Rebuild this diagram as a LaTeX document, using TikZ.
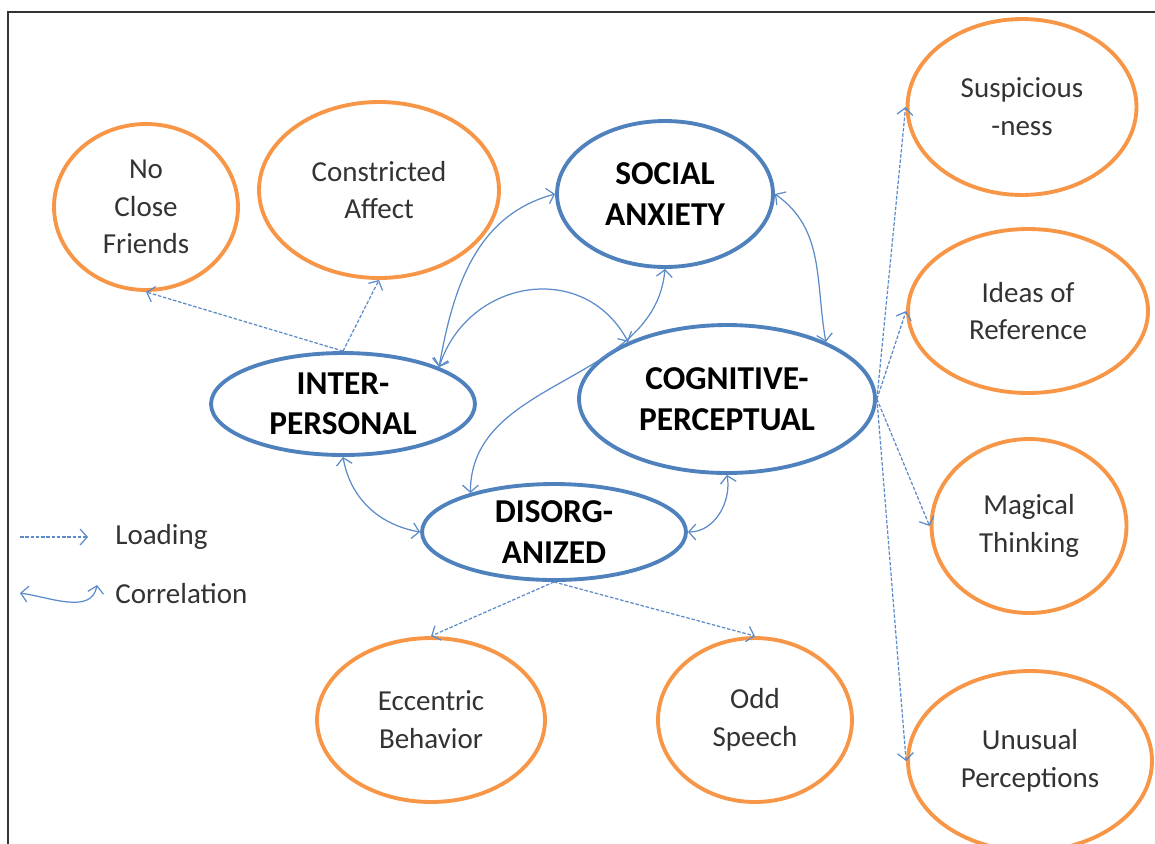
\documentclass[tikz,border=0pt]{standalone}
\usepackage{fontspec}
\setmainfont{Carlito}
\usepackage{tikz}
\usetikzlibrary{arrows.meta,calc,positioning,shapes.geometric}
\definecolor{traitorange}{HTML}{F79646}
\definecolor{factorblue}{HTML}{4F81BD}
\definecolor{linkblue}{HTML}{5B8BC9}
\definecolor{labelgray}{HTML}{333333}

\begin{document}
\begin{tikzpicture}[x=0.02cm,y=-0.02cm,
		trait/.style={ellipse,draw=traitorange,line width=2.2pt,inner sep=0pt,align=center,
			text=labelgray,font=\fontsize{16.5}{21.5}\selectfont},
		factor/.style={ellipse,draw=factorblue,line width=2.2pt,inner sep=0pt,align=center,
			font=\fontsize{19}{23}\selectfont\bfseries},
		loading/.style={draw=linkblue,line width=0.7pt,dash pattern=on 2pt off 1pt,
			-{Straight Barb[length=4pt,width=9pt]}},
		correl/.style={draw=linkblue,line width=0.7pt,
			{Straight Barb[length=4pt,width=9pt]}-{Straight Barb[length=4pt,width=9pt]}},
		legendtext/.style={anchor=west,inner sep=0pt,text=labelgray,font=\fontsize{16.5}{20}\selectfont}]
		\clip (0,0) rectangle (1155,843);
		\draw[line width=0.9pt,black!80] (8,860) -- (8,12) -- (1170,12);
		% factors
		\node[factor,minimum width=4.32cm,minimum height=2.92cm] (social) at (665,194) {SOCIAL\\ANXIETY};
		\node[factor,minimum width=5.28cm,minimum height=2.04cm] (inter) at (343,404) {INTER-\\PERSONAL};
		\node[factor,minimum width=5.92cm,minimum height=2.96cm] (cog) at (727,399) {COGNITIVE-\\PERCEPTUAL};
		\node[factor,minimum width=5.28cm,minimum height=1.92cm] (disorg) at (554,532) {DISORG-\\ANIZED};
		% traits
		\node[trait,minimum width=3.68cm,minimum height=3.32cm] (friends) at (146,207) {No\\Close\\Friends};
		\node[trait,minimum width=4.8cm,minimum height=3.52cm] (affect) at (379,190) {Constricted\\Affect};
		\node[trait,minimum width=4.58cm,minimum height=3.52cm] (suspic) at (1022,107) {Suspicious\\-ness};
		\node[trait,minimum width=4.8cm,minimum height=3.28cm] (ideas) at (1028,311) {Ideas of\\Reference};
		\node[trait,minimum width=3.9cm,minimum height=3.48cm] (magic) at (1029,526) {Magical\\Thinking};
		\node[trait,minimum width=4.88cm,minimum height=3.6cm] (unusual) at (1030,761) {Unusual\\Perceptions};
		\node[trait,minimum width=4.56cm,minimum height=3.28cm] (eccentric) at (431,720) {Eccentric\\Behavior};
		\node[trait,minimum width=3.88cm,minimum height=3.28cm] (speech) at (755,720) {Odd\\Speech};
		% loadings
		\draw[loading] (inter.north) to (friends.south);
		\draw[loading] (inter.north) to (affect.south);
		\draw[loading] (cog.east) to (suspic.west);
		\draw[loading] (cog.east) to (ideas.west);
		\draw[loading] (cog.east) to (magic.west);
		\draw[loading] (cog.east) to (unusual.west);
		\draw[loading] (disorg.south) to (eccentric.north);
		\draw[loading] (disorg.south) to (speech.north);
		% correlations
		\draw[correl] (inter.21) to[out=80,in=195] (social.west);
		\draw[correl] (inter.21) to[out=72,in=118,looseness=1.25] (cog.150);
		\draw[correl] (social.east) to[out=-35,in=100] (cog.30);
		\draw[correl] (disorg.155) to[out=90,in=-95] (social.south);
		\draw[correl] (inter.south) to[out=-80,in=170] (disorg.west);
		\draw[correl] (disorg.east) to[out=0,in=-80] (cog.south);
		% legend
		\coordinate (loadA) at (88,537);
		\coordinate (loadB) at (20,537);
		\draw[loading] (loadB) to (loadA);
		\node[legendtext] (loadlabel) at (115,537) {Loading};
		\coordinate (corA) at (20,593);
		\coordinate (corB) at (97,585);
		\draw[correl] (corA) to[out=-8,in=-100] (corB);
		\node[legendtext] (corlabel) at (115,594) {Correlation};
	\end{tikzpicture}
\end{document}
